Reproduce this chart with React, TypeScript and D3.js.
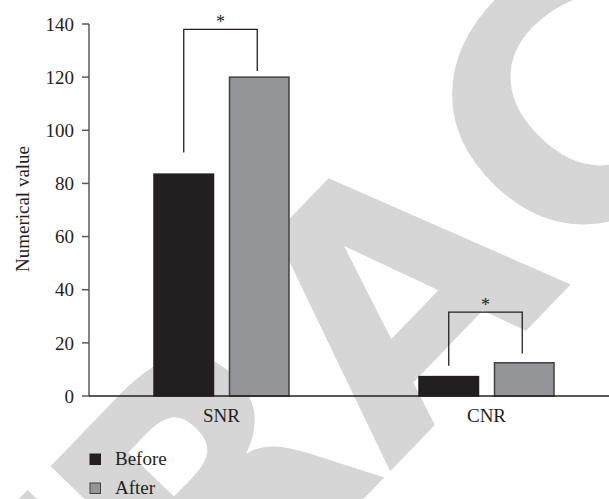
import React from "react";
import * as d3 from "d3";

const categories = ["SNR", "CNR"];
const seriesNames = ["Before", "After"];
const beforeValues = [83.5, 7.3];
const afterValues = [120, 12.5];
const yTicks = [0, 20, 40, 60, 80, 100, 120, 140];
const bracketTop = [138, 31.6];
const bracketLeftEnd = [91.6, 11.4];
const bracketRightEnd = [122.3, 16];
const seriesColors = ["#231f20", "#939598"];
const seriesStroke = ["#231f20", "#414042"];

const W = 609;
const H = 499;
const FONT = "'Liberation Serif', 'Times New Roman', serif";

export default function App() {
  const y = d3.scaleLinear().domain([0, 140]).range([396, 24]);
  const x0 = d3.scaleBand<string>().domain(categories).range([89, 619]).paddingInner(0).paddingOuter(0);
  const x1 = d3.scaleBand<string>().domain(seriesNames).range([65, 200]).paddingInner(0.212).paddingOuter(0);
  const values = [beforeValues, afterValues];

  return (
    <svg width={W} height={H} style={{ position: "absolute", left: 0, top: 0, background: "#fff" }}>
      <text
        x={-1119}
        y={124}
        transform="translate(391,292) rotate(-46)"
        fontFamily="'DejaVu Sans', sans-serif"
        fontWeight="bold"
        fontSize={340}
        fill="#d6d6d6"
      >
        RETRACTED
      </text>

      {/* bars */}
      {categories.map((c, ci) => (
        <g key={c} transform={`translate(${x0(c)},0)`}>
          {seriesNames.map((s, si) => (
            <rect
              key={s}
              x={x1(s)}
              y={y(values[si][ci])}
              width={x1.bandwidth()}
              height={y(0) - y(values[si][ci])}
              fill={seriesColors[si]}
              stroke={seriesStroke[si]}
              strokeWidth={1.5}
            />
          ))}
        </g>
      ))}

      {/* y axis */}
      <line x1={89} x2={89} y1={y(140)} y2={y(0)} stroke="#58595b" strokeWidth={1.5} />
      {yTicks.map((t) => (
        <g key={t}>
          <line x1={82} x2={89} y1={y(t)} y2={y(t)} stroke="#58595b" strokeWidth={1.5} />
          <text x={74} y={y(t)} dy="0.35em" textAnchor="end" fontFamily={FONT} fontSize={19} fill="#231f20">
            {t}
          </text>
        </g>
      ))}
      {/* x axis */}
      <line x1={89} x2={609} y1={y(0)} y2={y(0)} stroke="#231f20" strokeWidth={1.5} />
      {categories.map((c) => (
        <text key={c} x={(x0(c) as number) + 65 + 67.5} y={422} textAnchor="middle" fontFamily={FONT} fontSize={19} fill="#231f20">
          {c}
        </text>
      ))}

      <text
        transform="translate(29,209) rotate(-90)"
        textAnchor="middle"
        fontFamily={FONT}
        fontSize={19}
        fill="#231f20"
      >
        Numerical value
      </text>

      {/* significance brackets */}
      {categories.map((c, ci) => {
        const lx = (x0(c) as number) + (x1("Before") as number) + x1.bandwidth() / 2;
        const rx = (x0(c) as number) + (x1("After") as number) + x1.bandwidth() / 2 - 2;
        const ty = y(bracketTop[ci]);
        const path = `M${lx},${y(bracketLeftEnd[ci])}V${ty}H${rx}V${y(bracketRightEnd[ci])}`;
        return (
          <g key={c}>
            <path d={path} fill="none" stroke="#231f20" strokeWidth={1.3} />
            <text x={(lx + rx) / 2} y={ty - 1} textAnchor="middle" fontFamily={FONT} fontSize={18} fill="#231f20">
              *
            </text>
          </g>
        );
      })}

      {/* legend */}
      {seriesNames.map((s, si) => (
        <g key={s} transform={`translate(90,${454 + si * 29})`}>
          <rect x={0} y={0} width={10.5} height={10.5} fill={seriesColors[si]} stroke={seriesStroke[si]} strokeWidth={1} />
          <text x={25} y={10.5} fontFamily={FONT} fontSize={19} fill="#231f20">
            {s}
          </text>
        </g>
      ))}
    </svg>
  );
}
